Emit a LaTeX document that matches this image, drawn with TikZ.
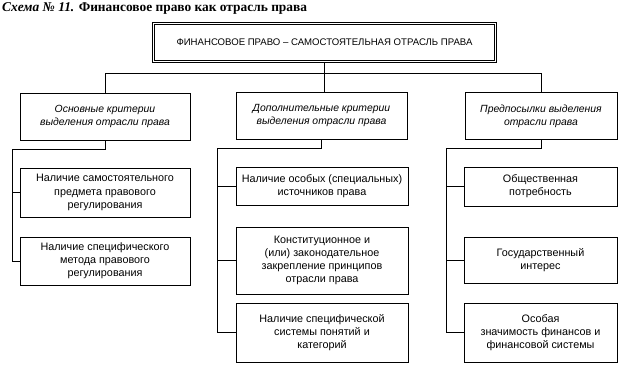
\documentclass[tikz,border=0pt]{standalone}
\usepackage{fontspec}
\setmainfont{Liberation Serif}
\setsansfont{Liberation Sans}
\usepackage{tikz}
\usetikzlibrary{positioning, calc}

\begin{document}
\begin{tikzpicture}[
    x=1pt, y=-1pt,
    every node/.style={font=\sffamily\fontsize{10.8}{13.2}\selectfont},
    mainbox/.style={rectangle, draw=black, double, double distance=1.6pt, line width=1.1pt, minimum width=342pt, minimum height=38pt, font=\sffamily\fontsize{9.6}{11}\selectfont},
    headbox/.style={rectangle, draw=black, line width=0.9pt, minimum height=47pt, align=center, font=\sffamily\itshape\fontsize{10.4}{13}\selectfont},
    itembox/.style={rectangle, draw=black, line width=0.8pt, align=center},
    link/.style={draw=black, line width=0.8pt}
]
\useasboundingbox (0,0) rectangle (628,371);

% Title
\node[anchor=west, inner sep=0pt, font=\rmfamily\bfseries\fontsize{13.4}{15}\selectfont] (title) at (2,8) {\textit{Схема № 11.} Финансовое право как отрасль права};

% Top box
\node[mainbox] (top) at (324.5,42.5) {ФИНАНСОВОЕ ПРАВО – САМОСТОЯТЕЛЬНАЯ ОТРАСЛЬ ПРАВА};

% Column headers
\node[headbox, minimum width=170pt] (h1) at (105,116.5) {Основные критерии\\выделения отрасли права};
\node[headbox, minimum width=171pt] (h2) at (321.5,116) {Дополнительные критерии\\выделения отрасли права};
\node[headbox, minimum width=152pt] (h3) at (541,116) {Предпосылки выделения\\отрасли права};

% Left column
\node[itembox, minimum width=170pt, minimum height=49pt] (l1) at (105,192.5) {Наличие самостоятельного\\предмета правового\\регулирования};
\node[itembox, minimum width=170pt, minimum height=48pt] (l2) at (105,261) {Наличие специфического\\метода правового\\регулирования};

% Middle column
\node[itembox, minimum width=172pt, minimum height=38pt] (m1) at (322,186) {Наличие особых (специальных)\\источников права};
\node[itembox, minimum width=172pt, minimum height=67pt] (m2) at (322,260.5) {Конституционное и\\(или) законодательное\\закрепление принципов\\отрасли права};
\node[itembox, minimum width=172pt, minimum height=59pt] (m3) at (322,332.5) {Наличие специфической\\системы понятий и\\категорий};

% Right column
\node[itembox, minimum width=153pt, minimum height=39pt] (r1) at (540.5,186.5) {Общественная\\потребность};
\node[itembox, minimum width=153pt, minimum height=46pt] (r2) at (540.5,260) {Государственный\\интерес};
\node[itembox, minimum width=153pt, minimum height=59pt] (r3) at (540.5,332.5) {Особая\\значимость финансов и\\финансовой системы};

% Top connectors
\coordinate (bus) at (0,73);
\draw[link] (top.south) -- (top.south |- h2.north);
\draw[link] (h1.north) |- (bus -| h3.north) -- (h3.north);

% Column spines
\coordinate (s1) at (12,149);
\coordinate (s2) at (217,148);
\coordinate (s3) at (446,148);

\draw[link] (h1.south) |- (s1) |- (l2.west);
\draw[link] (s1 |- l1.west) -- (l1.west);

\draw[link] (h2.south) |- (s2) |- (m3.west);
\draw[link] (s2 |- m1.west) -- (m1.west);
\draw[link] (s2 |- m2.west) -- (m2.west);

\draw[link] (h3.south) |- (s3) |- (r3.west);
\draw[link] (s3 |- r1.west) -- (r1.west);
\draw[link] (s3 |- r2.west) -- (r2.west);

\end{tikzpicture}
\end{document}
